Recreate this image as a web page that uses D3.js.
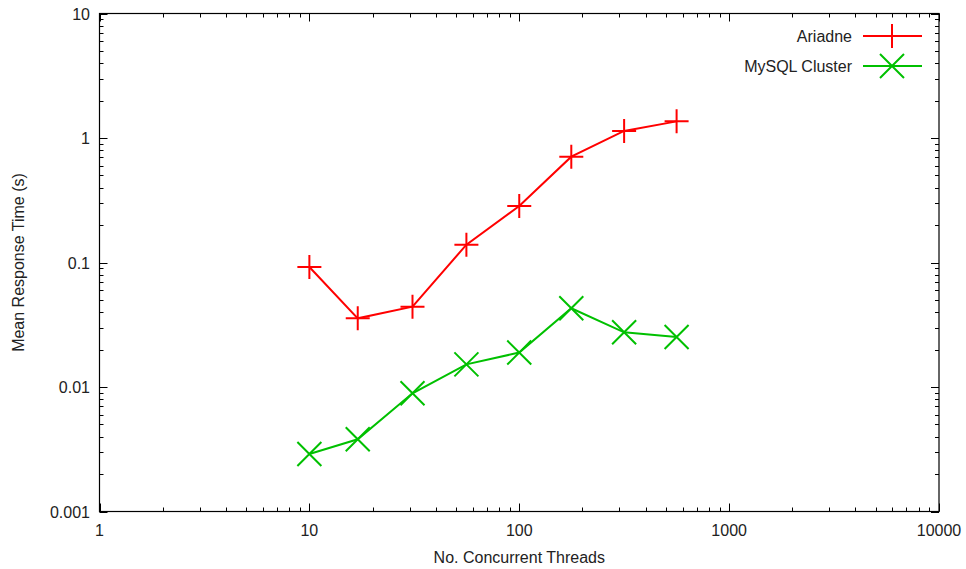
<!DOCTYPE html>
<html>
<head>
<meta charset="utf-8">
<script src="https://cdn.jsdelivr.net/npm/d3@7"></script>
<style>
  body { margin: 0; background: #fff; }
  svg { display: block; font-family: "Liberation Sans", Arial, sans-serif; }
</style>
</head>
<body>
<svg id="chart" width="966" height="569"></svg>
<script>
// thread counts and mean response times (s)
const threads = [10, 17, 31, 56, 100, 177, 316, 562];
const ariadne = [0.092, 0.0356, 0.0442, 0.139, 0.284, 0.708, 1.14, 1.36];
const mysql   = [0.0029, 0.0038, 0.0089, 0.0152, 0.0189, 0.0429, 0.0275, 0.0252];
const xTicks = [1, 10, 100, 1000, 10000];
const yTicks = [0.001, 0.01, 0.1, 1, 10];

const series = [
  { name: 'Ariadne', values: ariadne, color: '#ff0000', marker: 'plus' },
  { name: 'MySQL Cluster', values: mysql, color: '#00c000', marker: 'cross' },
];

const svg = d3.select('#chart');
const m = { left: 99.5, right: 939, top: 13.5, bottom: 511.5 };
const FS = 16;

const x = d3.scaleLog().domain([1, 10000]).range([m.left, m.right]);
const y = d3.scaleLog().domain([0.001, 10]).range([m.bottom, m.top]);

// minor tick positions 2..9 of every decade
const minors = (ticks) => {
  const out = [];
  for (let i = 0; i < ticks.length - 1; i++)
    for (let k = 2; k <= 9; k++) out.push(ticks[i] * k);
  return out;
};

const tickG = svg.append('g').attr('stroke', '#000').attr('stroke-width', 1);
const drawTicks = (vals, len) => {
  vals.forEach(v => {
    const px = Math.round(x(v)) + 0.5;
    tickG.append('line').attr('x1', px).attr('x2', px).attr('y1', m.bottom).attr('y2', m.bottom - len);
    tickG.append('line').attr('x1', px).attr('x2', px).attr('y1', m.top).attr('y2', m.top + len);
  });
};
const drawYTicks = (vals, len) => {
  vals.forEach(v => {
    const py = Math.round(y(v)) + 0.5;
    tickG.append('line').attr('y1', py).attr('y2', py).attr('x1', m.left).attr('x2', m.left + len);
    tickG.append('line').attr('y1', py).attr('y2', py).attr('x1', m.right).attr('x2', m.right - len);
  });
};
drawTicks(xTicks, 8);
drawTicks(minors(xTicks), 4);
drawYTicks(yTicks, 8);
drawYTicks(minors(yTicks), 4);

// frame
svg.append('rect')
  .attr('x', m.left).attr('y', m.top)
  .attr('width', m.right - m.left).attr('height', m.bottom - m.top)
  .attr('fill', 'none').attr('stroke', '#000').attr('stroke-width', 1.2);

// tick labels
const fmt = v => v >= 1 ? String(v) : String(+v.toPrecision(1));
svg.append('g').selectAll('text').data(xTicks).join('text')
  .attr('x', d => x(d)).attr('y', 536)
  .attr('text-anchor', 'middle').attr('font-size', FS).attr('fill', '#222')
  .text(fmt);
svg.append('g').selectAll('text').data(yTicks).join('text')
  .attr('x', 90).attr('y', d => y(d) + 6)
  .attr('text-anchor', 'end').attr('font-size', FS).attr('fill', '#222')
  .text(fmt);

// axis titles
svg.append('text')
  .attr('x', (m.left + m.right) / 2).attr('y', 563)
  .attr('text-anchor', 'middle').attr('font-size', FS).attr('fill', '#222')
  .text('No. Concurrent Threads');
svg.append('text')
  .attr('transform', `translate(24,${(m.top + m.bottom) / 2}) rotate(-90)`)
  .attr('text-anchor', 'middle').attr('font-size', FS).attr('fill', '#222')
  .text('Mean Response Time (s)');

const S = 12;
const markerPath = (type) => type === 'plus'
  ? `M${-S},0H${S}M0,${-S}V${S}`
  : `M${-S},${-S}L${S},${S}M${-S},${S}L${S},${-S}`;

const line = d3.line().x(d => x(d[0])).y(d => y(d[1]));

series.forEach((s, si) => {
  const pts = threads.map((t, i) => [t, s.values[i]]);
  const g = svg.append('g');
  g.append('path').attr('d', line(pts))
    .attr('fill', 'none').attr('stroke', s.color).attr('stroke-width', 2);
  g.selectAll('path.pt').data(pts).join('path').attr('class', 'pt')
    .attr('transform', d => `translate(${x(d[0])},${y(d[1])})`)
    .attr('d', markerPath(s.marker))
    .attr('fill', 'none').attr('stroke', s.color).attr('stroke-width', 2);

  // legend entry
  const ly = 36 + si * 30;
  svg.append('text').attr('x', 852).attr('y', ly + 6)
    .attr('text-anchor', 'end').attr('font-size', FS).attr('fill', '#222')
    .text(s.name);
  svg.append('line').attr('x1', 863).attr('x2', 922).attr('y1', ly).attr('y2', ly)
    .attr('stroke', s.color).attr('stroke-width', 2);
  svg.append('path').attr('transform', `translate(892,${ly})`)
    .attr('d', markerPath(s.marker))
    .attr('fill', 'none').attr('stroke', s.color).attr('stroke-width', 2);
});
</script>
</body>
</html>
